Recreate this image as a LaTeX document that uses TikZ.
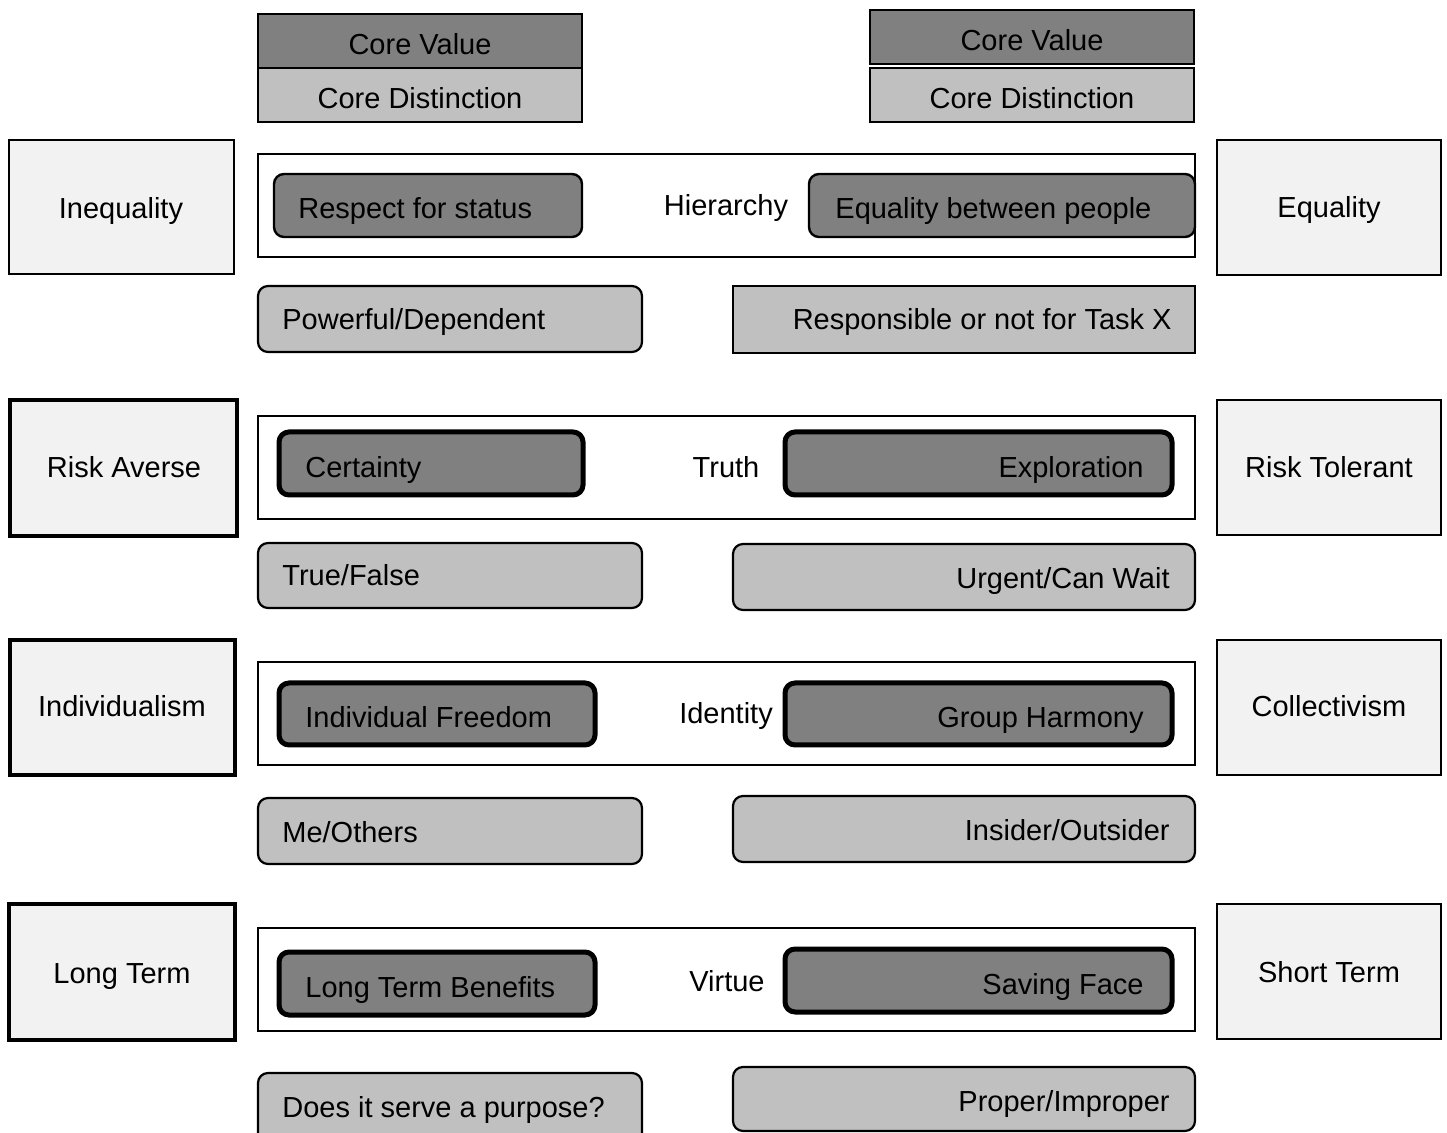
\documentclass[tikz,border=0pt]{standalone}
\usepackage{fontspec}
\setmainfont{Liberation Sans}
\definecolor{valuefill}{HTML}{808080}
\definecolor{distfill}{HTML}{C0C0C0}
\definecolor{polefill}{HTML}{F2F2F2}
\begin{document}
\begin{tikzpicture}[x=0.5pt,y=-0.5pt,
    every node/.style={inner sep=0pt,yshift=-0.6pt,font=\fontsize{14.5pt}{17pt}\selectfont},
    pole/.style={draw,fill=polefill,line width=1pt},
    polethick/.style={pole,line width=2.3pt},
    frame/.style={draw,fill=white,line width=1pt},
    value/.style={draw,fill=valuefill,line width=1.2pt,rounded corners=5pt},
    valuethick/.style={value,line width=2.5pt},
    distinct/.style={draw,fill=distfill,line width=1.1pt,rounded corners=5pt}]
  \useasboundingbox (0,0) rectangle (1447,1133);
  % legend
  \draw[value,sharp corners] (258,14) rectangle (582,68);
  \draw[distinct,sharp corners] (258,68) rectangle (582,122);
  \node[anchor=base] (valueleft) at (420,53) {Core Value};
  \node[anchor=base] (distleft) at (420,107) {Core Distinction};
  \draw[value,sharp corners] (870,10) rectangle (1194,64);
  \draw[distinct,sharp corners] (870,68) rectangle (1194,122);
  \node[anchor=base] (valueright) at (1032,49) {Core Value};
  \node[anchor=base] (distright) at (1032,107) {Core Distinction};
  % frames
  \foreach \top in {154,416,662,928} {
      \draw[frame] (258,\top) rectangle (1195,\top+103);
  }
  % hierarchy
  \draw[pole] (9,140) rectangle (234,274);
  \node[anchor=base] (inequality) at (121,217) {Inequality};
  \draw[value] (274,174) rectangle (582,237);
  \node[anchor=base west] (respect) at (298,217) {Respect for status};
  \node[anchor=base] (hierarchy) at (726,214) {Hierarchy};
  \draw[value] (809,174) rectangle (1195,237);
  \node[anchor=base west] (equalpeople) at (835,217) {Equality between people};
  \draw[pole] (1217,140) rectangle (1441,275);
  \node[anchor=base] (equality) at (1329,216) {Equality};
  \draw[distinct] (258,286) rectangle (642,352);
  \node[anchor=base west] (powerful) at (282,328) {Powerful/Dependent};
  \draw[distinct,sharp corners] (733,286) rectangle (1195,353);
  \node[anchor=base east] (responsible) at (1172,328) {Responsible or not for Task X};
  % truth
  \draw[polethick] (10,400) rectangle (237,536);
  \node[anchor=base] (riskaverse) at (124,476) {Risk Averse};
  \draw[valuethick] (279,432) rectangle (583,495);
  \node[anchor=base west] (certainty) at (305,476) {Certainty};
  \node[anchor=base] (truth) at (726,476) {Truth};
  \draw[valuethick] (785,432) rectangle (1172,495);
  \node[anchor=base east] (exploration) at (1144,476) {Exploration};
  \draw[pole] (1217,400) rectangle (1441,535);
  \node[anchor=base] (risktolerant) at (1329,476) {Risk Tolerant};
  \draw[distinct] (258,543) rectangle (642,608);
  \node[anchor=base west] (truefalse) at (282,584) {True/False};
  \draw[distinct] (733,544) rectangle (1195,610);
  \node[anchor=base east] (urgent) at (1170,587) {Urgent/Can Wait};
  % identity
  \draw[polethick] (10,640) rectangle (235,775);
  \node[anchor=base] (individualism) at (122,715) {Individualism};
  \draw[valuethick] (279,683) rectangle (595,745);
  \node[anchor=base west] (freedom) at (305,726) {Individual Freedom};
  \node[anchor=base] (identity) at (726,722) {Identity};
  \draw[valuethick] (785,683) rectangle (1172,745);
  \node[anchor=base east] (harmony) at (1144,726) {Group Harmony};
  \draw[pole] (1217,640) rectangle (1441,775);
  \node[anchor=base] (collectivism) at (1329,715) {Collectivism};
  \draw[distinct] (258,798) rectangle (642,864);
  \node[anchor=base west] (meothers) at (282,841) {Me/Others};
  \draw[distinct] (733,796) rectangle (1195,862);
  \node[anchor=base east] (insider) at (1170,839) {Insider/Outsider};
  % virtue
  \draw[polethick] (9,904) rectangle (235,1040);
  \node[anchor=base] (longterm) at (122,982) {Long Term};
  \draw[valuethick] (279,952) rectangle (595,1015);
  \node[anchor=base west] (benefits) at (305,996) {Long Term Benefits};
  \node[anchor=base] (virtue) at (727,990) {Virtue};
  \draw[valuethick] (785,949) rectangle (1172,1012);
  \node[anchor=base east] (savingface) at (1144,993) {Saving Face};
  \draw[pole] (1217,904) rectangle (1441,1039);
  \node[anchor=base] (shortterm) at (1329,981) {Short Term};
  \draw[distinct] (258,1073) rectangle (642,1150);
  \node[anchor=base west] (purpose) at (282,1116) {Does it serve a purpose?};
  \draw[distinct] (733,1067) rectangle (1195,1131);
  \node[anchor=base east] (proper) at (1170,1110) {Proper/Improper};
\end{tikzpicture}
\end{document}
